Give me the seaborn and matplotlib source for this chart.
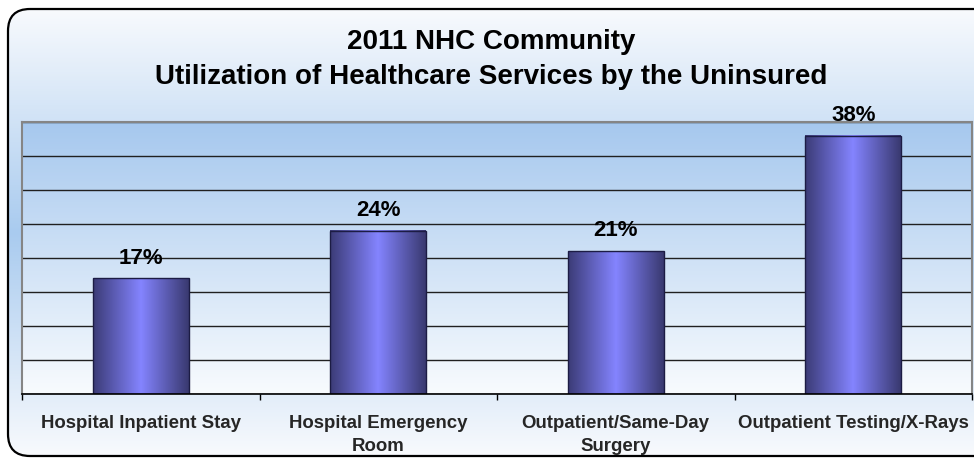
import numpy as np
import matplotlib
matplotlib.use("Agg")
import matplotlib.pyplot as plt
from matplotlib.colors import LinearSegmentedColormap
from matplotlib.patches import FancyBboxPatch
from matplotlib.ticker import FixedLocator
import seaborn as sns

# Survey results: share of uninsured respondents using each service
categories = [
    "Hospital Inpatient Stay",
    "Hospital Emergency Room",
    "Outpatient/Same-Day Surgery",
    "Outpatient Testing/X-Rays",
]
tick_labels = [
    "Hospital Inpatient Stay",
    "Hospital Emergency\nRoom",
    "Outpatient/Same-Day\nSurgery",
    "Outpatient Testing/X-Rays",
]
values = [17, 24, 21, 38]
title_lines = ["2011 NHC Community", "Utilization of Healthcare Services by the Uninsured"]

sns.set_style("white")
plt.rcParams["font.family"] = ["Liberation Sans", "DejaVu Sans"]
plt.rcParams["font.weight"] = "bold"

W, H = 974, 459
fig = plt.figure(figsize=(W / 100, H / 100), dpi=100, facecolor="white")

# ---- outer rounded frame with a soft vertical gradient (pixel coordinates)
bg = fig.add_axes([0, 0, 1, 1], zorder=0)
bg.set_xlim(0, W)
bg.set_ylim(H, 0)
bg.axis("off")

outer_cmap = LinearSegmentedColormap.from_list(
    "outer", [(0, "#f8fafd"), (0.5, "#a9cbef"), (1, "#f8fafd")])
fx0, fy0, fw, fh = 8, 9, 1000, 447
frame = FancyBboxPatch((fx0, fy0), fw, fh,
                       boxstyle="round,pad=0,rounding_size=22",
                       facecolor="none", edgecolor="black", linewidth=1.6,
                       zorder=3, clip_on=False)
bg.add_patch(frame)
grad_v = np.linspace(0, 1, 256).reshape(-1, 1)
img = bg.imshow(grad_v, cmap=outer_cmap, aspect="auto",
                extent=[fx0, fx0 + fw, fy0 + fh, fy0], origin="upper", zorder=1)
img.set_clip_path(frame)
bg.set_xlim(0, W)
bg.set_ylim(H, 0)

for txt, yb in zip(title_lines, [49, 84]):
    bg.text(491, yb, txt, ha="center", va="baseline", fontsize=20,
            fontweight="bold", color="black", zorder=4)

# ---- plot area
left, right, top, bottom = 22, 972, 122, 394
ax = fig.add_axes([left / W, 1 - bottom / H, (right - left) / W, (bottom - top) / H],
                  zorder=1)
ax.patch.set_alpha(0)

sns.barplot(x=categories, y=values, ax=ax, color="#8080ff", saturation=1,
            width=0.404, edgecolor="#1c1c44", linewidth=1.0, zorder=2)

ymax = 40
ax.set_xlim(-0.5, len(categories) - 0.5)
ax.set_ylim(0, ymax)

# plot-area background gradient
area_cmap = LinearSegmentedColormap.from_list("area", ["#a6c8ee", "#f8fbfe"])
ax.imshow(grad_v, cmap=area_cmap, aspect="auto",
          extent=[-0.5, len(categories) - 0.5, 0, ymax], origin="upper", zorder=0)

# shaded bar faces
bar_cmap = LinearSegmentedColormap.from_list(
    "bar", [(0, "#3b3b76"), (0.5, "#8484ff"), (1, "#393970")])
grad_h = np.linspace(0, 1, 256).reshape(1, -1)
for p in ax.patches:
    x0, y0 = p.get_x(), p.get_y()
    w, h = p.get_width(), p.get_height()
    ax.imshow(grad_h, cmap=bar_cmap, aspect="auto",
              extent=[x0, x0 + w, y0, y0 + h], zorder=1.8)
    p.set_facecolor("none")
    p.set_zorder(2.2)

ax.set_xlim(-0.5, len(categories) - 0.5)
ax.set_ylim(0, ymax)

# value labels
ax.bar_label(ax.containers[0], labels=[f"{v}%" for v in values], padding=7,
             fontsize=16, fontweight="bold", color="black", zorder=3)

# gridlines
ax.set_yticks(np.arange(0, ymax + 1, 5))
ax.yaxis.grid(True, color="#202020", linewidth=1.0, zorder=0.5)
ax.set_axisbelow(True)
ax.tick_params(axis="y", left=False, labelleft=False)

# category axis
ax.set_xticks(range(len(categories)), labels=tick_labels)
ax.xaxis.set_minor_locator(FixedLocator(np.arange(-0.5, len(categories), 1.0)))
ax.tick_params(axis="x", which="major", length=0, pad=15, labelsize=13.4)
ax.tick_params(axis="x", which="minor", length=4.3, width=1.0, color="black",
               direction="out", bottom=True)
for lbl in ax.get_xticklabels():
    lbl.set_fontweight("bold")
    lbl.set_linespacing(1.45)
ax.set_xlabel("")
ax.set_ylabel("")

for side in ["top", "left", "right"]:
    ax.spines[side].set_color("#858585")
    ax.spines[side].set_linewidth(1.5)
    ax.spines[side].set_visible(True)
ax.spines["bottom"].set_color("black")
ax.spines["bottom"].set_linewidth(1.2)
ax.spines["bottom"].set_visible(True)

fig.savefig("out.png", dpi=100, facecolor="white")
